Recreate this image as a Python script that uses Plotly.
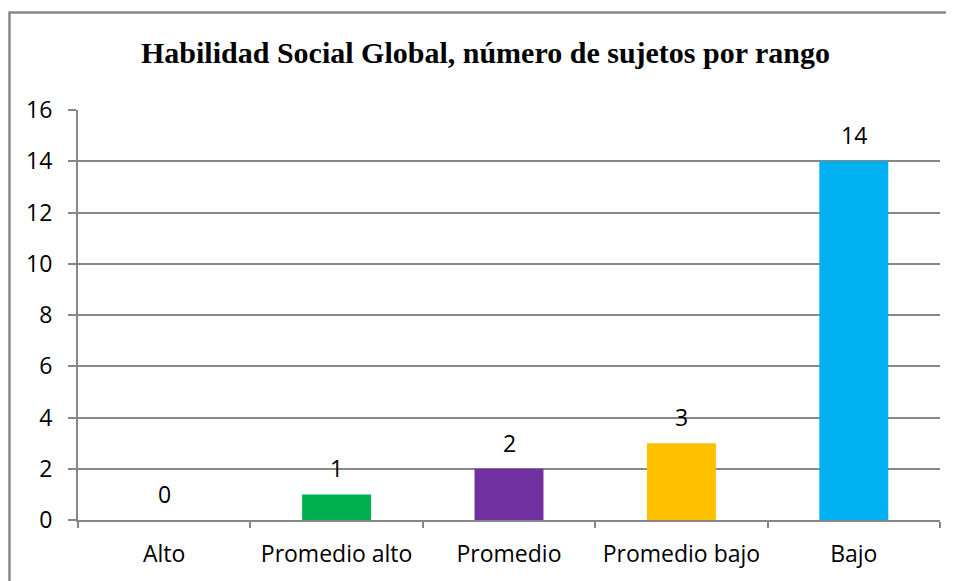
import plotly.graph_objects as go

categories = ["Alto", "Promedio alto", "Promedio", "Promedio bajo", "Bajo"]
values = [0, 1, 2, 3, 14]
colors = ["#4F81BD", "#00B050", "#7030A0", "#FFC000", "#00B0F0"]
y_ticks = [0, 2, 4, 6, 8, 10, 12, 14, 16]
title_text = "Habilidad Social Global, número de sujetos por rango"

GRID = "#878787"
FONT = "Open Sans"
FS = 23

fig = go.Figure()
fig.add_trace(go.Bar(
    x=categories, y=values, marker=dict(color=colors, line=dict(width=0)),
    width=0.4, hoverinfo="x+y",
))

for c, v in zip(categories, values):
    fig.add_annotation(x=c, y=v, text=str(v), showarrow=False,
                       yanchor="middle", yshift=26,
                       font=dict(family=FONT, size=FS, color="#000000"))

# outer chart border (left and top edges visible)
fig.add_shape(type="line", xref="paper", yref="paper", x0=-0.0795, x1=-0.0795, y0=1.24, y1=-0.25,
              line=dict(color="#888888", width=2.5))
fig.add_shape(type="line", xref="paper", yref="paper", x0=-0.0795, x1=1.0162, y0=1.238, y1=1.238,
              line=dict(color="#888888", width=2.5))

fig.update_layout(
    width=946, height=573,
    margin=dict(l=70, r=14, t=102, b=61),
    paper_bgcolor="white", plot_bgcolor="white",
    showlegend=False,
    title=dict(text="<b>" + title_text + "</b>", x=477.5 / 946, xref="container", xanchor="center",
               y=1 - 44 / 573, yref="container", yanchor="middle",
               font=dict(family="Liberation Serif", size=30, color="#000000")),
    font=dict(family=FONT, size=FS, color="#000000"),
)

fig.update_xaxes(
    showline=True, linecolor=GRID, linewidth=2,
    ticks="outside", tickson="boundaries", ticklen=6, tickwidth=2, tickcolor=GRID,
    showgrid=False, ticklabelstandoff=12,
    tickfont=dict(family=FONT, size=FS, color="#000000"),
)
fig.update_yaxes(
    range=[0, 16], tickvals=y_ticks, showline=True, linecolor=GRID, linewidth=2,
    ticks="outside", ticklen=8, tickwidth=2, tickcolor=GRID,
    showgrid=True, gridcolor=GRID, gridwidth=2, zeroline=False,
    ticklabelstandoff=11,
    tickfont=dict(family=FONT, size=FS, color="#000000"),
)

fig.write_html("out.html", config={"displayModeBar": False})
